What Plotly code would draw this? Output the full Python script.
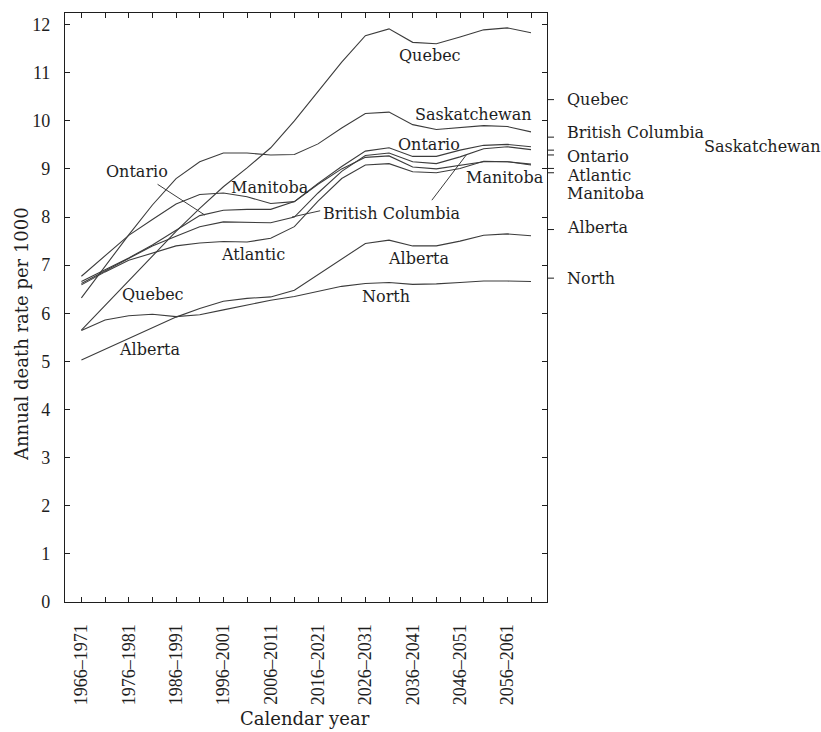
import plotly.graph_objects as go

# Five-year periods (x categories) and the labels shown on every other tick
periods = [
    "1966–1971", "1971–1976", "1976–1981", "1981–1986", "1986–1991",
    "1991–1996", "1996–2001", "2001–2006", "2006–2011", "2011–2016",
    "2016–2021", "2021–2026", "2026–2031", "2031–2036", "2036–2041",
    "2041–2046", "2046–2051", "2051–2056", "2056–2061", "2061–2066",
]
period_labels = [
    "1966–1971", "", "1976–1981", "", "1986–1991", "", "1996–2001", "",
    "2006–2011", "", "2016–2021", "", "2026–2031", "", "2036–2041", "",
    "2046–2051", "", "2056–2061", "",
]

# Annual death rate per 1000, by region
quebec = [5.65, 6.16, 6.68, 7.20, 7.70, 8.18, 8.63, 9.02, 9.44, 10.00,
          10.62, 11.22, 11.77, 11.91, 11.63, 11.60, 11.74, 11.89, 11.93, 11.83]
saskatchewan = [6.32, 6.98, 7.63, 8.25, 8.80, 9.15, 9.33, 9.33, 9.29, 9.30,
                9.52, 9.85, 10.15, 10.18, 9.92, 9.82, 9.86, 9.90, 9.88, 9.77]
manitoba = [6.77, 7.20, 7.62, 7.95, 8.27, 8.47, 8.50, 8.42, 8.28, 8.32,
            8.68, 9.00, 9.24, 9.27, 9.04, 9.00, 9.08, 9.15, 9.15, 9.10]
ontario = [6.66, 6.90, 7.15, 7.42, 7.72, 8.03, 8.14, 8.16, 8.16, 8.32,
           8.70, 9.05, 9.37, 9.44, 9.26, 9.26, 9.39, 9.49, 9.51, 9.46]
british_columbia = [6.62, 6.88, 7.14, 7.40, 7.60, 7.80, 7.90, 7.89, 7.88, 8.00,
                    8.50, 8.95, 9.28, 9.33, 9.15, 9.11, 9.25, 9.42, 9.46, 9.40]
atlantic = [6.59, 6.86, 7.10, 7.25, 7.40, 7.46, 7.49, 7.48, 7.56, 7.80,
            8.33, 8.80, 9.08, 9.11, 8.94, 8.92, 9.01, 9.16, 9.15, 9.08]
alberta = [5.03, 5.25, 5.47, 5.70, 5.92, 6.10, 6.25, 6.31, 6.34, 6.48,
           6.80, 7.13, 7.45, 7.52, 7.40, 7.40, 7.50, 7.62, 7.65, 7.61]
north = [5.64, 5.86, 5.95, 5.98, 5.93, 5.97, 6.07, 6.17, 6.27, 6.35,
         6.45, 6.56, 6.62, 6.64, 6.60, 6.61, 6.64, 6.67, 6.67, 6.66]

# Marks on the right-hand margin: region and level
side_regions = ["Quebec", "British Columbia", "Saskatchewan", "Ontario",
                "Atlantic", "Manitoba", "Alberta", "North"]
side_levels = [10.44, 9.66, 9.39, 9.29, 9.01, 8.92, 7.74, 6.73]
side_label_y = [10.44, 9.76, 9.47, 9.25, 8.87, 8.48, 7.79, 6.73]

FONT = "DejaVu Serif"
NUM_FONT = "Liberation Serif"
INK = "#1e1e1e"
LINE = "#3c3c3c"

fig = go.Figure()
for name, vals in [("Quebec", quebec), ("Saskatchewan", saskatchewan),
                   ("Manitoba", manitoba), ("Ontario", ontario),
                   ("British Columbia", british_columbia), ("Atlantic", atlantic),
                   ("Alberta", alberta), ("North", north)]:
    fig.add_trace(go.Scatter(x=periods, y=vals, mode="lines", name=name,
                             line=dict(color=LINE, width=1.1),
                             showlegend=False, hoverinfo="x+y+name"))

axis_common = dict(showline=True, linecolor=INK, linewidth=1.3, mirror="allticks",
                   ticks="inside", ticklen=5, tickwidth=1, tickcolor=INK,
                   showgrid=False, zeroline=False,
                   tickfont=dict(family=NUM_FONT, size=18, color=INK))

fig.update_layout(
    width=821, height=732,
    margin=dict(l=65, r=274, t=13, b=130),
    paper_bgcolor="white", plot_bgcolor="white",
    font=dict(family=FONT, size=16, color=INK),
    xaxis=dict(type="category", categoryorder="array", categoryarray=periods,
               range=[-0.693, 19.676], tickmode="array", tickvals=periods,
               ticktext=period_labels, tickangle=-90, ticklabelstandoff=14,
               **axis_common),
    yaxis=dict(range=[0, 12.24], tick0=0, dtick=1, ticklabelstandoff=10,
               **axis_common),
)

# Inline labels placed next to their curves (category index, rate)
inline_labels = [
    ("Quebec", 14.73, 11.36), ("Saskatchewan", 16.59, 10.13),
    ("Ontario", 14.69, 9.51), ("Manitoba", 17.90, 8.83),
    ("British Columbia", 13.13, 8.08), ("Ontario", 2.35, 8.95),
    ("Manitoba", 7.97, 8.62), ("Atlantic", 7.25, 7.23),
    ("Quebec", 3.03, 6.40), ("Alberta", 2.86, 5.24),
    ("Alberta", 14.23, 7.13), ("North", 12.87, 6.34),
]
for text, xi, yv in inline_labels:
    fig.add_annotation(x=xi, y=yv, xref="x", yref="y", text=text,
                       showarrow=False, xanchor="center", yanchor="middle",
                       font=dict(family=FONT, size=16, color=INK))

# Leader lines from labels to curves
leaders = [
    (3.22, 8.68, 5.22, 8.04),    # Ontario (left)
    (8.90, 8.00, 10.09, 8.13),   # British Columbia, to the left curve
    (14.81, 8.35, 16.28, 9.30),  # British Columbia, up to the right
]
for x0, y0, x1, y1 in leaders:
    fig.add_shape(type="line", xref="x", yref="y", x0=x0, y0=y0, x1=x1, y1=y1,
                  line=dict(color=LINE, width=1))

# Right-hand margin marks and their labels
for name, lvl, ly in zip(side_regions, side_levels, side_label_y):
    fig.add_shape(type="line", xref="paper", yref="y", x0=1.0, x1=1.0 + 7 / 482,
                  y0=lvl, y1=lvl, line=dict(color=INK, width=1))
    if name == "Saskatchewan":
        fig.add_annotation(x=(823 - 65) / 482, y=ly, xref="paper", yref="y",
                           text=name, showarrow=False, xanchor="right",
                           yanchor="middle",
                           font=dict(family=FONT, size=16, color=INK))
    else:
        fig.add_annotation(x=(565 - 65) / 482, y=ly, xref="paper", yref="y",
                           text=name, showarrow=False, xanchor="left",
                           yanchor="middle",
                           font=dict(family=FONT, size=16, color=INK))

# Axis titles
fig.add_annotation(x=(22 - 65) / 482, y=(602 - 334) / 589, xref="paper", yref="paper",
                   text="Annual death rate per 1000", textangle=-90, showarrow=False,
                   xanchor="center", yanchor="middle",
                   font=dict(family=FONT, size=18, color=INK))
fig.add_annotation(x=(305 - 65) / 482, y=(602 - 718) / 589, xref="paper", yref="paper",
                   text="Calendar year", showarrow=False,
                   xanchor="center", yanchor="middle",
                   font=dict(family=FONT, size=18, color=INK))

fig.write_html("out.html")
